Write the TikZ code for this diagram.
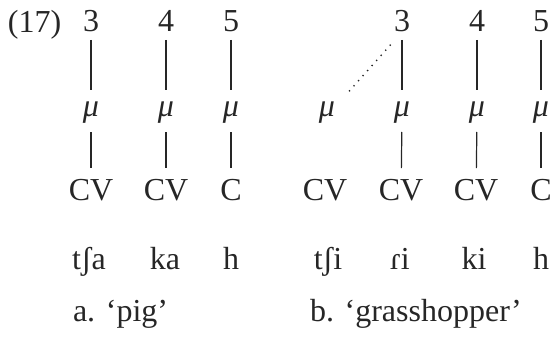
\documentclass[tikz,border=0pt]{standalone}
\usepackage{fontspec}
\setmainfont{Liberation Serif}
\begin{document}
\begin{tikzpicture}[x=1pt,y=-1pt,
  every node/.style={inner sep=0pt,outer sep=0pt,anchor=base,text=black!85,
    font=\fontsize{32}{38}\selectfont},
  tier/.style={line width=1.2pt,draw=black!85},
  upper/.style={tier,shorten <=8pt,shorten >=26pt},
  lower/.style={tier,shorten <=16pt,shorten >=32pt},
  assoc/.style={line width=1.4pt,draw=black!85,dash pattern=on 1.3pt off 5.5pt,
    shorten <=17pt,shorten >=30pt}]
\useasboundingbox (0,0) rectangle (553,345);
\node[anchor=base west] (ex) at (8,33) {(17)};
% a. pig
\node (na1) at (91,32) {3};
\node (na2) at (166,32) {4};
\node (na3) at (231,32) {5};
\node (ma1) at (91,116) {\itshape μ};
\node (ma2) at (166,116) {\itshape μ};
\node (ma3) at (231,116) {\itshape μ};
\node (ca1) at (91,200) {CV};
\node (ca2) at (166,200) {CV};
\node (ca3) at (231,200) {C};
\node (sa1) at (89,269) {tʃa};
\node (sa2) at (165,269) {ka};
\node (sa3) at (231,269) {h};
\node[anchor=base west] (ga) at (73,321) {a. ‘pig’};
\draw[upper] (na1.base) -- (ma1.base);
\draw[upper] (na2.base) -- (ma2.base);
\draw[upper] (na3.base) -- (ma3.base);
\draw[lower] (ma1.base) -- (ca1.base);
\draw[lower] (ma2.base) -- (ca2.base);
\draw[lower] (ma3.base) -- (ca3.base);
% b. grasshopper
\node (nb1) at (402,32) {3};
\node (nb2) at (477,32) {4};
\node (nb3) at (541,32) {5};
\node (mb0) at (327,116) {\itshape μ};
\node (mb1) at (402,116) {\itshape μ};
\node (mb2) at (477,116) {\itshape μ};
\node (mb3) at (541,116) {\itshape μ};
\node (cb0) at (325,200) {CV};
\node (cb1) at (401,200) {CV};
\node (cb2) at (476,200) {CV};
\node (cb3) at (541,200) {C};
\node (sb0) at (328,269) {tʃi};
\node (sb1) at (400,269) {ɾi};
\node (sb2) at (474,269) {ki};
\node (sb3) at (541,269) {h};
\node[anchor=base west] (gb) at (310,321) {b. ‘grasshopper’};
\draw[assoc] (nb1.base) -- (mb0.base);
\draw[upper] (nb1.base) -- (mb1.base);
\draw[upper] (nb2.base) -- (mb2.base);
\draw[upper] (nb3.base) -- (mb3.base);
\draw[lower] (mb1.base) -- (cb1.base);
\draw[lower] (mb2.base) -- (cb2.base);
\draw[lower] (mb3.base) -- (cb3.base);
\end{tikzpicture}
\end{document}
